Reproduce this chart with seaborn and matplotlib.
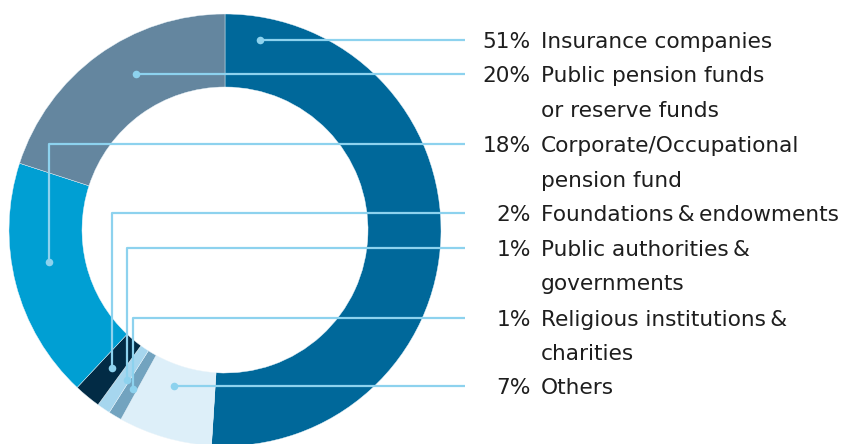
import matplotlib
matplotlib.use("Agg")
import matplotlib.pyplot as plt
import seaborn as sns

# Investor breakdown, in clockwise order starting at 12 o'clock
categories = [
    "Insurance companies",
    "Others",
    "Religious institutions\u2009&\ncharities",
    "Public authorities\u2009&\ngovernments",
    "Foundations\u2009&\u2009endowments",
    "Corporate/Occupational\npension fund",
    "Public pension funds\nor reserve funds",
]
shares = [51, 7, 1, 1, 2, 18, 20]
colors = ["#00689A", "#DDEFF9", "#72A3BF", "#A6D6EE", "#022B45", "#009FD3", "#64869F"]

# Order in which the labels are listed on the right
legend_order = [0, 6, 5, 4, 3, 2, 1]

sns.set_theme(style="white")
plt.rcParams["font.family"] = ["DejaVu Sans"]

W, H = 842, 444
fig = plt.figure(figsize=(W / 100, H / 100), dpi=100)
ax = fig.add_axes([0, 0, 1, 1])

cx, cy, r_out, ring = 225, 230, 216, 73


def py(y):
    # pixel row -> data y (origin at bottom)
    return H - y


ax.pie(
    shares,
    colors=colors,
    startangle=90,
    counterclock=False,
    center=(cx, py(cy)),
    radius=r_out,
    wedgeprops=dict(width=ring, linewidth=0.3, edgecolor="#EAF4FA"),
    frame=True,
)
ax.set_xlim(0, W)
ax.set_ylim(0, H)
ax.set_aspect("equal")
ax.axis("off")

# Callout anchors (dot position, elbow row) for each listed label
anchors = {
    0: ((260, 40), 40),
    6: ((136, 74), 74),
    5: ((49, 262), 144),
    4: ((112, 368), 213),
    3: ((127, 380), 248),
    2: ((133, 389), 318),
    1: ((174, 386), 386),
}
line_c = "#8DD2EE"
line_end = 465
pct_x, lab_x = 531, 541
row_gap = 34.5
text_c = "#1E1E1E"
fs = 15.6

for idx in legend_order:
    (dx, dy), ry = anchors[idx]
    ax.plot([dx, dx, line_end], [py(dy), py(ry), py(ry)], color=line_c, lw=1.6,
            solid_capstyle="butt", zorder=3)
    ax.scatter([dx], [py(dy)], s=30, color=line_c, zorder=4, linewidths=0)
    base = ry + 8
    ax.text(pct_x, py(base), f"{shares[idx]}%", ha="right", va="baseline",
            fontsize=fs, color=text_c)
    for k, line in enumerate(categories[idx].split("\n")):
        ax.text(lab_x, py(base + k * row_gap), line, ha="left", va="baseline",
                fontsize=fs, color=text_c)

fig.savefig("out.png", dpi=100)
